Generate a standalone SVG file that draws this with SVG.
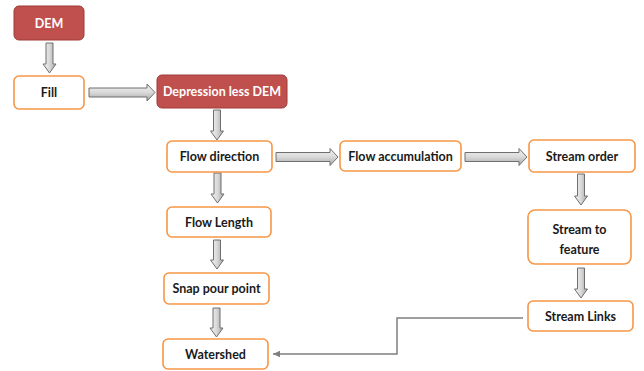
<svg xmlns="http://www.w3.org/2000/svg" width="644" height="371" viewBox="0 0 644 371">
<defs>
<linearGradient id="gv" x1="0" y1="0" x2="1" y2="0"><stop offset="0" stop-color="#f4f4f4"/><stop offset="0.5" stop-color="#d9d9d9"/><stop offset="1" stop-color="#a6a6a6"/></linearGradient>
<linearGradient id="gh" x1="0" y1="0" x2="0" y2="1"><stop offset="0" stop-color="#f4f4f4"/><stop offset="0.5" stop-color="#d9d9d9"/><stop offset="1" stop-color="#a6a6a6"/></linearGradient>
<marker id="ah" markerWidth="8" markerHeight="8" refX="7" refY="4" orient="auto" markerUnits="userSpaceOnUse"><path d="M7,4 L0,0.8 L0,7.2 Z" fill="#7f7f7f"/></marker>
</defs>
<style>
.n{fill:#fff;stroke:#f79646;stroke-width:1.6}
.r{fill:#c0504d;stroke:#9c3b39;stroke-width:1}
.t{font-family:Lato,"Liberation Sans",sans-serif;font-weight:bold;font-size:12.5px;fill:#1a1a1a;text-anchor:middle;dominant-baseline:central}
.w{fill:#fff}
.bv{fill:url(#gv);stroke:#6f6f6f;stroke-width:1}
.bh{fill:url(#gh);stroke:#6f6f6f;stroke-width:1}
.c{fill:none;stroke:#7f7f7f;stroke-width:1.5}
</style>
<g id="connectors">
<path class="bv" d="M46,43 H53 V64 H56 L49.5,73 L43,64 H46 Z"/>
<path class="bh" d="M89,88 H147 V84 L155,92.5 L147,101 V97 H89 Z"/>
<path class="bv" d="M213.5,110 H220.5 V131 H223.5 L217,140 L210.5,131 H213.5 Z"/>
<path class="bh" d="M276,152.5 H330 V148.5 L338,157 L330,165.5 V161.5 H276 Z"/>
<path class="bh" d="M465,152.5 H519 V148.5 L527,157 L519,165.5 V161.5 H465 Z"/>
<path class="bv" d="M214,173 H221 V194 H224 L217.5,203 L211,194 H214 Z"/>
<path class="bv" d="M213.5,240 H220.5 V260 H223.5 L217,269 L210.5,260 H213.5 Z"/>
<path class="bv" d="M213,308 H220 V328 H223 L216.5,337 L210,328 H213 Z"/>
<path class="bv" d="M577.5,174 H584.5 V196 H587.5 L581,205 L574.5,196 H577.5 Z"/>
<path class="bv" d="M577.5,268 H584.5 V289 H587.5 L581,298 L574.5,289 H577.5 Z"/>
<path class="c" d="M523,318 H397 V354 H273" marker-end="url(#ah)"/>
</g>
<g id="dem"><rect class="r" x="14" y="6" width="70" height="34" rx="5"/><text class="t w" x="49" y="23">DEM</text></g>
<g id="fill"><rect class="n" x="14" y="76" width="70" height="33" rx="5"/><text class="t" x="49" y="92.5">Fill</text></g>
<g id="depless"><rect class="r" x="157" y="75" width="130" height="33" rx="5"/><text class="t w" x="222" y="91.5">Depression less DEM</text></g>
<g id="flowdir"><rect class="n" x="167" y="141" width="105" height="31" rx="5"/><text class="t" x="219.5" y="156.5">Flow direction</text></g>
<g id="flowacc"><rect class="n" x="340" y="141" width="121" height="30" rx="5"/><text class="t" x="400.5" y="156">Flow accumulation</text></g>
<g id="streamorder"><rect class="n" x="529" y="140" width="106" height="32" rx="5"/><text class="t" x="582" y="156">Stream order</text></g>
<g id="flowlen"><rect class="n" x="167" y="207" width="104" height="30" rx="5"/><text class="t" x="219" y="222">Flow Length</text></g>
<g id="streamfeat"><rect class="n" x="528" y="210" width="103" height="54" rx="7"/><text class="t" x="579.5" y="229">Stream to</text><text class="t" x="579.5" y="249">feature</text></g>
<g id="snap"><rect class="n" x="164" y="273" width="105" height="31" rx="5"/><text class="t" x="216.5" y="288.5">Snap pour point</text></g>
<g id="streamlinks"><rect class="n" x="528" y="301" width="105" height="30" rx="5"/><text class="t" x="580.5" y="316">Stream Links</text></g>
<g id="watershed"><rect class="n" x="163" y="339" width="105" height="30" rx="5"/><text class="t" x="215.5" y="354">Watershed</text></g>
</svg>
